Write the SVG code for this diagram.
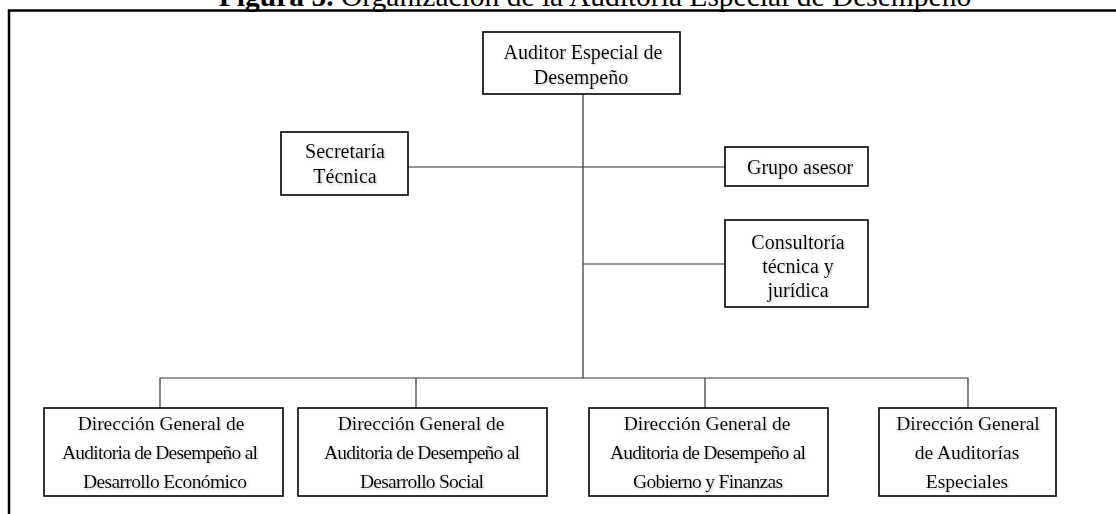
<svg xmlns="http://www.w3.org/2000/svg" width="1116" height="514" viewBox="0 0 1116 514">
  <defs>
    <!-- soft grey shadow behind the box labels -->
    <filter id="txtShadow" x="-5%" y="-20%" width="110%" height="160%">
      <feDropShadow dx="1" dy="1.2" stdDeviation="0.8" flood-color="#8a8a8a" flood-opacity="0.55"/>
    </filter>
  </defs>
  <style>
    .box { fill: #ffffff; stroke: #000000; stroke-width: 1.6; }
    .lbl { font-family: "Liberation Serif", "Times New Roman", serif; fill: #000000; text-anchor: middle; filter: url(#txtShadow); }
    .big { font-size: 20px; }
    .small { font-size: 19.5px; }
    .wire { stroke: #333333; stroke-width: 1.2; fill: none; }
    .frame { stroke: #000000; stroke-width: 2.5; fill: none; }
    .title { font-family: "Liberation Serif", "Times New Roman", serif; font-size: 29.5px; fill: #000000; text-anchor: middle; }
  </style>
  <rect x="0" y="0" width="1116" height="514" fill="#ffffff"/>

  <!-- caption, partly cropped by the top edge -->
  <text class="title" x="595" y="6"><tspan font-weight="bold">Figura 5.</tspan> Organización de la Auditoria Especial de Desempeño</text>

  <!-- outer frame (open on the right and bottom) -->
  <path class="frame" d="M9,514 V10.5 H1116"/>

  <!-- connectors -->
  <g id="connectors">
    <path class="wire" d="M583,94 V378"/>
    <path class="wire" d="M408,167 H725"/>
    <path class="wire" d="M583,264 H725"/>
    <path class="wire" d="M160,408 V378 H968 V408"/>
    <path class="wire" d="M416,378 V408"/>
    <path class="wire" d="M705,378 V408"/>
  </g>

  <g id="auditor-especial">
    <rect class="box" x="483" y="32" width="197" height="62"/>
    <text class="lbl big" x="583" y="59">Auditor Especial de</text>
    <text class="lbl big" x="581" y="84">Desempeño</text>
  </g>

  <g id="secretaria-tecnica">
    <rect class="box" x="281" y="132" width="127" height="63"/>
    <text class="lbl big" x="345" y="158">Secretaría</text>
    <text class="lbl big" x="345" y="183">Técnica</text>
  </g>

  <g id="grupo-asesor">
    <rect class="box" x="725" y="147" width="143" height="39"/>
    <text class="lbl big" x="800" y="174">Grupo asesor</text>
  </g>

  <g id="consultoria">
    <rect class="box" x="725" y="220" width="143" height="87"/>
    <text class="lbl big" x="798" y="249">Consultoría</text>
    <text class="lbl big" x="798" y="273">técnica y</text>
    <text class="lbl big" x="798" y="297">jurídica</text>
  </g>

  <g id="dg-desarrollo-economico">
    <rect class="box" x="44" y="408" width="239" height="88"/>
    <text class="lbl small" x="161" y="430">Dirección General de</text>
    <text class="lbl small" x="160" y="459" textLength="196" lengthAdjust="spacing">Auditoria de Desempeño al</text>
    <text class="lbl small" x="165" y="488" textLength="164" lengthAdjust="spacing">Desarrollo Económico</text>
  </g>

  <g id="dg-desarrollo-social">
    <rect class="box" x="298" y="408" width="249" height="88"/>
    <text class="lbl small" x="421" y="430">Dirección General de</text>
    <text class="lbl small" x="422" y="459" textLength="196" lengthAdjust="spacing">Auditoria de Desempeño al</text>
    <text class="lbl small" x="422" y="488" textLength="124" lengthAdjust="spacing">Desarrollo Social</text>
  </g>

  <g id="dg-gobierno-finanzas">
    <rect class="box" x="589" y="408" width="239" height="88"/>
    <text class="lbl small" x="707" y="430">Dirección General  de</text>
    <text class="lbl small" x="708" y="459" textLength="196" lengthAdjust="spacing">Auditoria de Desempeño al</text>
    <text class="lbl small" x="708" y="488" textLength="150" lengthAdjust="spacing">Gobierno y Finanzas</text>
  </g>

  <g id="dg-auditorias-especiales">
    <rect class="box" x="879" y="408" width="177" height="88"/>
    <text class="lbl small" x="968" y="430">Dirección General</text>
    <text class="lbl small" x="967" y="459">de Auditorías</text>
    <text class="lbl small" x="967" y="488">Especiales</text>
  </g>
</svg>
